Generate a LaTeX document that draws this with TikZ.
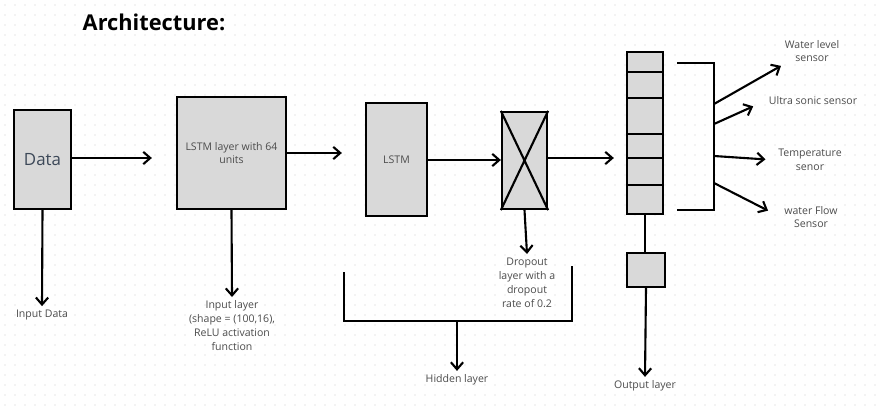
\documentclass[tikz,border=0pt]{standalone}
\usepackage{fontspec}
\setmainfont{Open Sans}
\usetikzlibrary{arrows.meta, positioning, calc}
\definecolor{dataText}{RGB}{60,72,88}

\begin{document}
\begin{tikzpicture}[
    x=0.02cm, y=-0.02cm,
    every node/.style={font=\fontsize{6}{7.9}\selectfont, text=black!70},
    block/.style={rectangle, draw, line width=1.3pt, fill=black!15, inner sep=0pt, align=center},
    lbl/.style={align=center, inner sep=2pt},
    arrow/.style={-{Straight Barb[length=4pt,width=7pt]}, line width=1.2pt},
    link/.style={line width=1.2pt}
]
    % background with dot grid
    \fill[white] (0,0) rectangle (882,410);
    \foreach \i in {0,...,87}
        \foreach \j in {0,...,40}
            \fill[black!9] (\i*10+5,\j*10+5) circle (0.55pt);
    \useasboundingbox (0,0) rectangle (882,410);

    \node[font=\bfseries\fontsize{12.4}{14}\selectfont, text=black] (title) at (154,22) {Architecture:};

    % layers
    \node[block, minimum width=1.14cm, minimum height=1.98cm,
          font=\fontsize{9.6}{11}\selectfont, text=dataText] (data) at (42.5,159.5) {Data};
    \node[block, minimum width=2.18cm, minimum height=2.24cm] (lstmA) at (231.5,153) {LSTM layer with 64\\units};
    \node[block, minimum width=1.22cm, minimum height=2.26cm] (lstmB) at (396.5,159.5) {LSTM};
    \node[block, minimum width=0.9cm, minimum height=1.94cm] (drop) at (524.5,160.5) {};
    \draw[link] (drop.north west) -- (drop.south east) (drop.north east) -- (drop.south west);
    \node[block, minimum width=0.72cm, minimum height=3.24cm] (outS) at (645,133) {};
    \foreach \yy in {72,98,134,158,185}
        \draw[link] (outS.west |- 0,\yy) -- (outS.east |- 0,\yy);
    \node[block, minimum width=0.76cm, minimum height=0.68cm] (outB) at (646,270) {};

    % labels
    \node[lbl] (inData) at (42,315) {Input Data};
    \node[lbl, anchor=north] (inLayer) at (232,297) {Input layer\\(shape = (100,16),\\ReLU activation\\function};
    \node[lbl, anchor=north] (dropLbl) at (527,254) {Dropout\\layer with a\\dropout\\rate of 0.2};
    \node[lbl] (hidLbl) at (457,380) {Hidden layer};
    \node[lbl] (outLbl) at (645,386) {Output layer};
    \node[lbl] (wl) at (812,51) {Water level\\sensor};
    \node[lbl] (us) at (813,101) {Ultra sonic sensor};
    \node[lbl] (tp) at (810,160) {Temperature\\senor};
    \node[lbl] (wf) at (811,217) {water Flow\\Sensor};

    % main flow
    \draw[arrow, shorten >=0.48cm] (data.east |- 0,158) -- (lstmA.west |- 0,158);
    \draw[arrow, shorten >=0.46cm] (lstmA.east |- 0,153) -- (lstmB.west |- 0,153);
    \draw[arrow] (lstmB.east |- 0,160) -- (drop.west |- 0,160);
    \draw[arrow, shorten >=0.24cm] (drop.east |- 0,158) -- (outS.west |- 0,158);

    % down arrows
    \draw[arrow] (data.south) -- (inData.north);
    \draw[arrow] (lstmA.south) -- (inLayer.north);
    \draw[arrow] (drop.south) -- (dropLbl.north);
    \draw[link] (outS.south) -- (outS.south |- outB.north);
    \draw[arrow] (outB.south) -- (outLbl.north);

    % hidden layer bracket
    \draw[link] (344,272) -- (344,321) -- (572,321) -- (572,266);
    \coordinate (hid) at (457,321);
    \draw[arrow] (hid) -- (hidLbl.north);

    % sensor bracket
    \draw[link] (677,63) -- (714,63) -- (714,210) -- (677,210);
    \coordinate (s1) at (714,104);
    \coordinate (s2) at (714,124);
    \coordinate (s3) at (714,156);
    \coordinate (s4) at (714,183);
    \draw[arrow] (s1) -- (wl.south west);
    \draw[arrow, shorten >=0.26cm] (s2) -- (us.west);
    \draw[arrow, shorten >=0.18cm] (s3) -- (tp.west);
    \draw[arrow, shorten >=0.28cm] (s4) -- (wf.west);
\end{tikzpicture}
\end{document}
